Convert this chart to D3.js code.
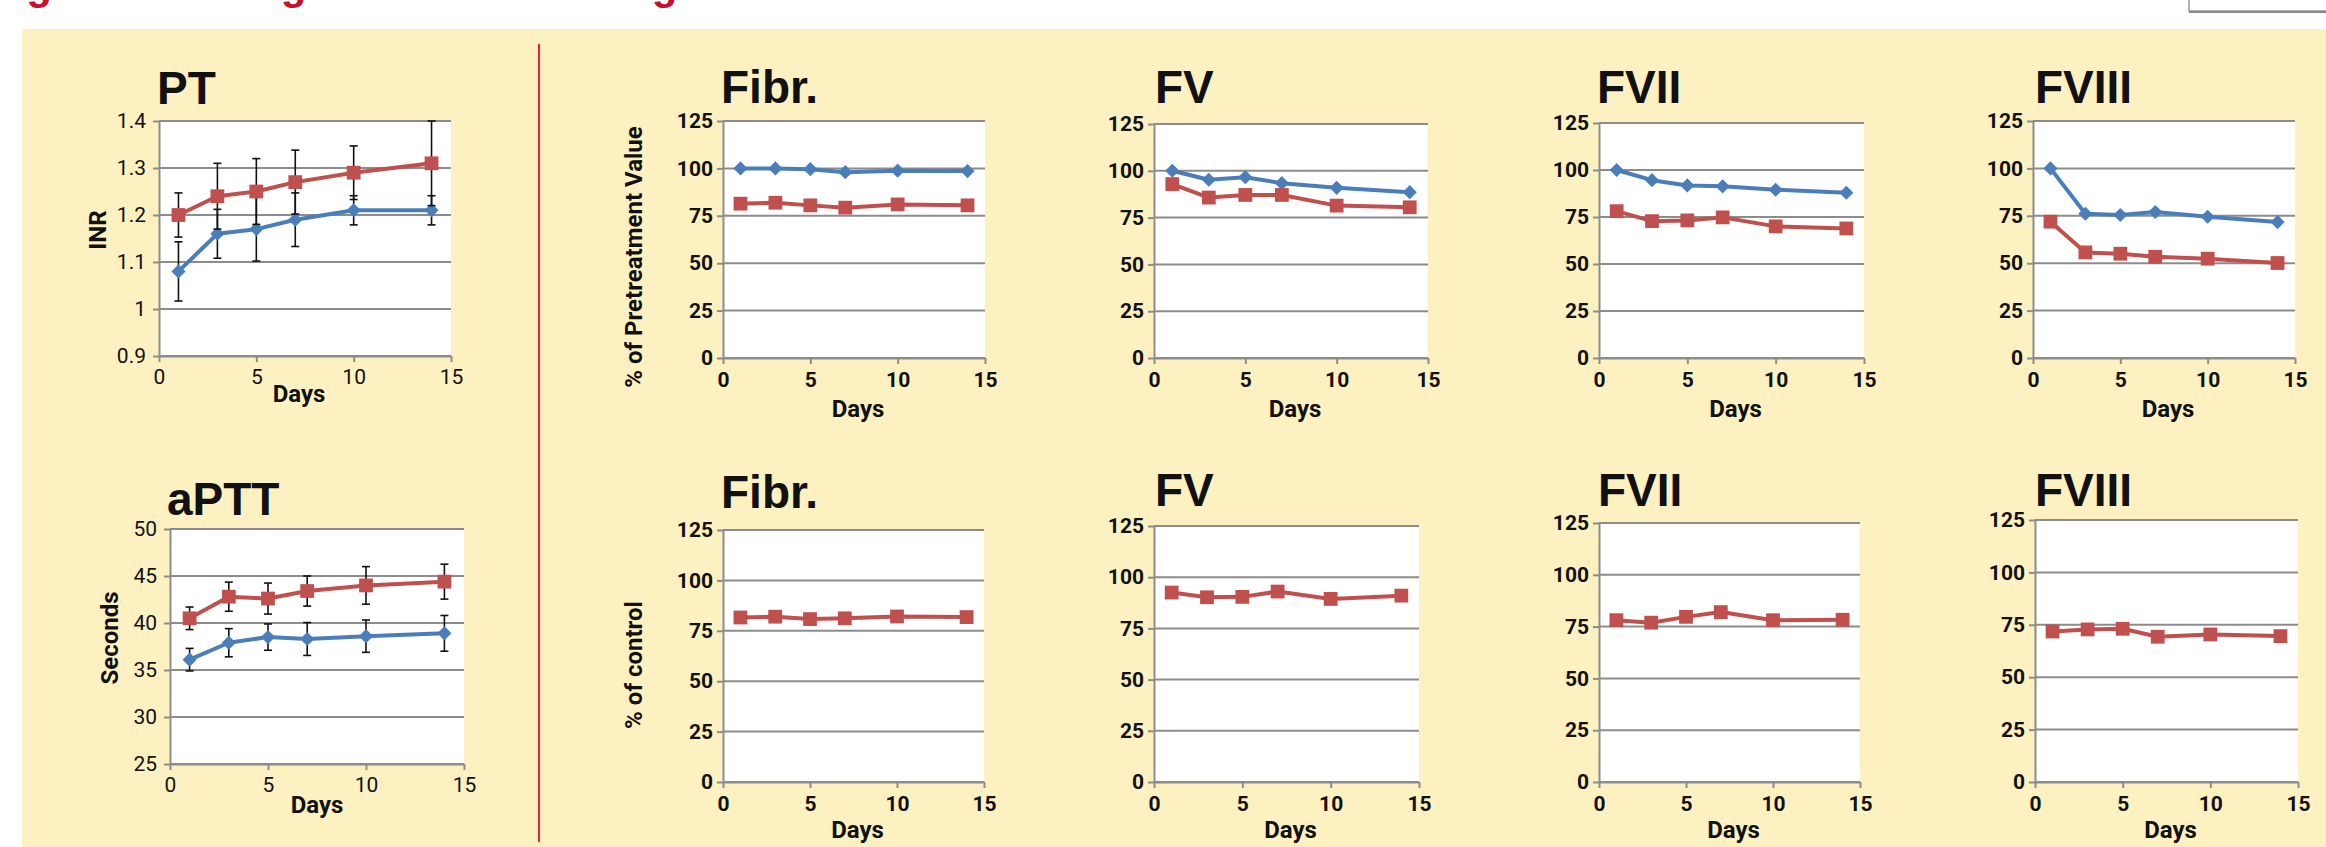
<!DOCTYPE html>
<html>
<head>
<meta charset="UTF-8">
<title>Coagulation factor levels</title>
<script src="https://cdn.jsdelivr.net/npm/d3@7"></script>
<style>
	body { margin: 0; background: #fff; }
	svg text { font-family: Roboto, "Liberation Sans", sans-serif; fill: #111; }
	svg text.title { font-family: "Liberation Sans", Arial, sans-serif; font-weight: bold; font-size: 46px; }
</style>
</head>
<body>
<svg id="chart" width="2326" height="847"></svg>
<script>
// ---- data ----
var days = [1, 3, 5, 7, 10, 14];
var dayTicks = [0, 5, 10, 15];
var pctTicks = [0, 25, 50, 75, 100, 125];
var ptTicks = [0.9, 1, 1.1, 1.2, 1.3, 1.4];
var apttTicks = [25, 30, 35, 40, 45, 50];

// PT (INR) with error bars
var ptBlue = [1.08, 1.16, 1.17, 1.19, 1.21, 1.21];
var ptBlueErr = [0.063, 0.052, 0.068, 0.057, 0.031, 0.031];
var ptRed = [1.20, 1.24, 1.25, 1.27, 1.29, 1.31];
var ptRedErr = [0.047, 0.07, 0.07, 0.068, 0.057, 0.09];

// aPTT (seconds) with error bars
var apttBlue = [36.1, 37.9, 38.5, 38.3, 38.6, 38.9];
var apttBlueErr = [1.2, 1.5, 1.4, 1.75, 1.72, 1.9];
var apttRed = [40.5, 42.8, 42.6, 43.4, 44.0, 44.4];
var apttRedErr = [1.2, 1.55, 1.65, 1.6, 2.0, 1.86];

// % of pretreatment value (top row)
var fibrBlue = [100, 100, 99.6, 98, 98.8, 98.6];
var fibrRed = [81.4, 81.9, 80.5, 79.3, 81.0, 80.5];
var fvBlue = [100, 95.2, 96.6, 93.4, 90.9, 88.6];
var fvRed = [92.9, 85.7, 87.1, 87.1, 81.4, 80.5];
var fviiBlue = [100, 94.6, 91.8, 91.3, 89.5, 87.9];
var fviiRed = [78.1, 72.8, 73.2, 74.8, 70.0, 68.9];
var fviiiBlue = [100, 76.1, 75.4, 77.0, 74.5, 71.7];
var fviiiRed = [71.9, 55.7, 55.0, 53.4, 52.4, 50.1];

// % of control (bottom row)
var fibrCtrl = [81.6, 82.0, 80.8, 81.2, 82.1, 81.8];
var fvCtrl = [92.5, 90.2, 90.4, 93.0, 89.4, 91.0];
var fviiCtrl = [78.1, 76.9, 79.7, 82.0, 78.1, 78.3];
var fviiiCtrl = [71.8, 72.8, 73.1, 69.3, 70.4, 69.6];

var blue = "#4A7EBB";
var red = "#C0504D";
var gridColor = "#8C8C8C";

var svg = d3.select("#chart");

// page furniture: caption cut off at the top, yellow panel, divider
svg.append("text")
	.attr("x", -11).attr("y", -1)
	.style("font-family", "'Liberation Sans', Arial, sans-serif")
	.style("font-weight", "bold").style("font-size", "42px").style("fill", "#C8102E")
	.text("Figure 3. Changes in Plasma Coagulation Factor Protein Levels with Warfarin Treatment");
svg.append("rect").attr("x", 2189).attr("y", -3).attr("width", 140).attr("height", 14)
	.attr("fill", "#fff").attr("stroke", "#999").attr("stroke-width", 1.5);
svg.append("line").attr("x1", 2189).attr("x2", 2326).attr("y1", 12).attr("y2", 12)
	.attr("stroke", "#888").attr("stroke-width", 2);

svg.append("rect").attr("x", 22).attr("y", 29).attr("width", 2326 - 22).attr("height", 847 - 29)
	.attr("fill", "#FDF1C1");
svg.append("line").attr("x1", 539).attr("x2", 539).attr("y1", 44).attr("y2", 842)
	.attr("stroke", "#E8262B").attr("stroke-width", 2);

// panel layout: box = [left, right, top, bottom]
var panels = [
	{ title: "PT", tx: 157, ty: 104, box: [159, 451, 121, 356], dom: [0.9, 1.4], ticks: ptTicks,
		ylab: "INR", lx: 98, ly: 230, daysDx: -6, daysDy: 46, fs: 21, bold: false, pad: 7,
		series: [{ v: ptBlue, e: ptBlueErr, c: blue, m: "d" }, { v: ptRed, e: ptRedErr, c: red, m: "s" }] },
	{ title: "aPTT", tx: 167, ty: 515, box: [170, 464, 529, 764], dom: [25, 50], ticks: apttTicks,
		ylab: "Seconds", lx: 110, ly: 638, daysDx: 0, daysDy: 49, fs: 21, bold: false, pad: 7,
		series: [{ v: apttBlue, e: apttBlueErr, c: blue, m: "d" }, { v: apttRed, e: apttRedErr, c: red, m: "s" }] },

	{ title: "Fibr.", tx: 721, ty: 103, box: [723, 985, 121, 358], dom: [0, 125], ticks: pctTicks,
		ylab: "% of Pretreatment Value", lx: 634, ly: 257, daysDx: 4, daysDy: 59, fs: 21, bold: true, pad: 4,
		series: [{ v: fibrBlue, c: blue, m: "d" }, { v: fibrRed, c: red, m: "s" }] },
	{ title: "FV", tx: 1155, ty: 103, box: [1154, 1428, 124, 358], dom: [0, 125], ticks: pctTicks,
		daysDx: 4, daysDy: 59, fs: 21, bold: true, pad: 4,
		series: [{ v: fvBlue, c: blue, m: "d" }, { v: fvRed, c: red, m: "s" }] },
	{ title: "FVII", tx: 1597, ty: 103, box: [1599, 1864, 123, 358], dom: [0, 125], ticks: pctTicks,
		daysDx: 4, daysDy: 59, fs: 21, bold: true, pad: 4,
		series: [{ v: fviiBlue, c: blue, m: "d" }, { v: fviiRed, c: red, m: "s" }] },
	{ title: "FVIII", tx: 2035, ty: 103, box: [2033, 2295, 121, 358], dom: [0, 125], ticks: pctTicks,
		daysDx: 4, daysDy: 59, fs: 21, bold: true, pad: 4,
		series: [{ v: fviiiBlue, c: blue, m: "d" }, { v: fviiiRed, c: red, m: "s" }] },

	{ title: "Fibr.", tx: 721, ty: 508, box: [723, 984, 530, 782], dom: [0, 125], ticks: pctTicks,
		ylab: "% of control", lx: 634, ly: 665, daysDx: 4, daysDy: 56, fs: 21, bold: true, pad: 4,
		series: [{ v: fibrCtrl, c: red, m: "s" }] },
	{ title: "FV", tx: 1155, ty: 506, box: [1154, 1419, 526, 782], dom: [0, 125], ticks: pctTicks,
		daysDx: 4, daysDy: 56, fs: 21, bold: true, pad: 4,
		series: [{ v: fvCtrl, c: red, m: "s" }] },
	{ title: "FVII", tx: 1598, ty: 506, box: [1599, 1860, 523, 782], dom: [0, 125], ticks: pctTicks,
		daysDx: 4, daysDy: 56, fs: 21, bold: true, pad: 4,
		series: [{ v: fviiCtrl, c: red, m: "s" }] },
	{ title: "FVIII", tx: 2035, ty: 506, box: [2035, 2298, 520, 782], dom: [0, 125], ticks: pctTicks,
		daysDx: 4, daysDy: 56, fs: 21, bold: true, pad: 4,
		series: [{ v: fviiiCtrl, c: red, m: "s" }] }
];

panels.forEach(function(p) {
	var b = p.box;
	var g = svg.append("g");
	var x = d3.scaleLinear().domain([0, 15]).range([b[0], b[1]]);
	var y = d3.scaleLinear().domain(p.dom).range([b[3], b[2]]);
	var weight = p.bold ? "bold" : "normal";

	g.append("rect").attr("x", b[0]).attr("y", b[2])
		.attr("width", b[1] - b[0]).attr("height", b[3] - b[2]).attr("fill", "#fff");

	// horizontal gridlines
	g.selectAll("line.grid").data(p.ticks).enter().append("line")
		.attr("class", "grid")
		.attr("x1", b[0]).attr("x2", b[1])
		.attr("y1", function(d) { return y(d); }).attr("y2", function(d) { return y(d); })
		.attr("stroke", gridColor).attr("stroke-width", 2);

	// y axis
	var ya = g.append("g").attr("transform", "translate(" + b[0] + ",0)")
		.call(d3.axisLeft(y).tickValues(p.ticks).tickSize(6).tickSizeOuter(0).tickPadding(p.pad)
			.tickFormat(function(d) { return String(d); }));
	// x axis
	var xa = g.append("g").attr("transform", "translate(0," + b[3] + ")")
		.call(d3.axisBottom(x).tickValues(dayTicks).tickSize(6).tickSizeOuter(0).tickPadding(p.bold ? 8 : 7));

	[ya, xa].forEach(function(a) {
		a.select(".domain").attr("stroke", gridColor).attr("stroke-width", 2);
		a.selectAll(".tick line").attr("stroke", gridColor).attr("stroke-width", 2);
		a.selectAll(".tick text").style("font-size", p.fs + "px").style("font-weight", weight)
			.style("fill", "#111").style("font-family", null);
	});

	// titles
	g.append("text").attr("class", "title").attr("x", p.tx).attr("y", p.ty).text(p.title);
	g.append("text").attr("x", (b[0] + b[1]) / 2 + p.daysDx).attr("y", b[3] + p.daysDy)
		.attr("text-anchor", "middle").style("font-size", "24px").style("font-weight", "bold")
		.text("Days");
	if (p.ylab) {
		g.append("text").attr("transform", "translate(" + p.lx + "," + p.ly + ") rotate(-90)")
			.attr("text-anchor", "middle").attr("dy", "0.35em")
			.style("font-size", "24px").style("font-weight", "bold")
			.text(p.ylab);
	}

	// series: line, error bars, markers
	var line = d3.line()
		.x(function(d, i) { return x(days[i]); })
		.y(function(d) { return y(d); });

	p.series.forEach(function(s) {
		g.append("path").datum(s.v).attr("d", line)
			.attr("fill", "none").attr("stroke", s.c).attr("stroke-width", 4)
			.attr("stroke-linejoin", "round");

		if (s.e) {
			var eb = g.selectAll(null).data(s.v).enter().append("g");
			eb.append("line")
				.attr("x1", function(d, i) { return x(days[i]); })
				.attr("x2", function(d, i) { return x(days[i]); })
				.attr("y1", function(d, i) { return y(d - s.e[i]); })
				.attr("y2", function(d, i) { return y(d + s.e[i]); })
				.attr("stroke", "#111").attr("stroke-width", 1.6);
			[-1, 1].forEach(function(sign) {
				eb.append("line")
					.attr("x1", function(d, i) { return x(days[i]) - 4; })
					.attr("x2", function(d, i) { return x(days[i]) + 4; })
					.attr("y1", function(d, i) { return y(d + sign * s.e[i]); })
					.attr("y2", function(d, i) { return y(d + sign * s.e[i]); })
					.attr("stroke", "#111").attr("stroke-width", 1.6);
			});
		}

		var sym = s.m === "d" ? d3.symbol(d3.symbolSquare, 100) : d3.symbol(d3.symbolSquare, 190);
		g.selectAll(null).data(s.v).enter().append("path")
			.attr("d", sym)
			.attr("transform", function(d, i) {
				return "translate(" + x(days[i]) + "," + y(d) + ")" + (s.m === "d" ? " rotate(45)" : "");
			})
			.attr("fill", s.c);
	});
});
</script>
</body>
</html>
